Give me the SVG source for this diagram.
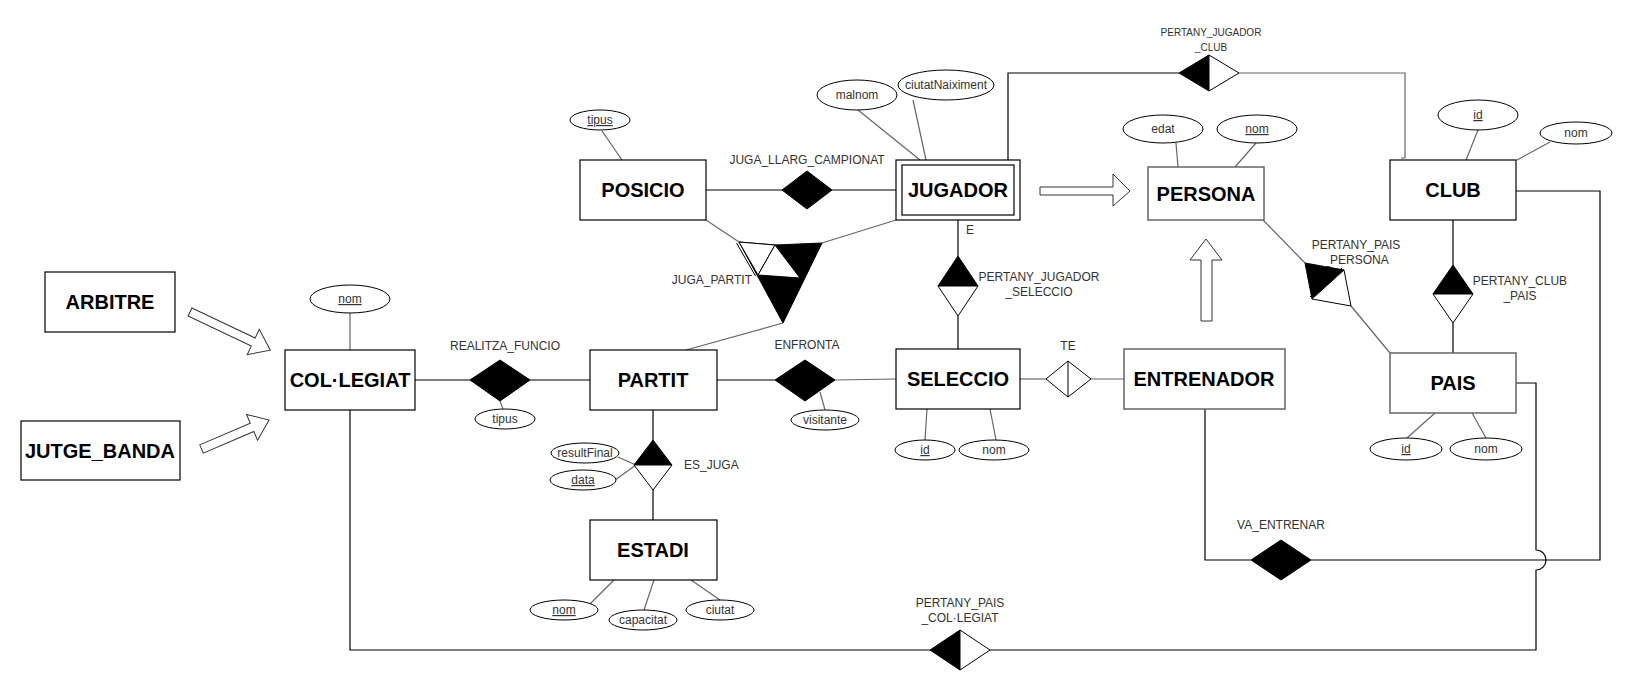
<svg xmlns="http://www.w3.org/2000/svg" width="1633" height="691" viewBox="0 0 1633 691">
<style>
text{font-family:"Liberation Sans",Arial,sans-serif;}
.ent{fill:#fff;stroke:#000;stroke-width:1.2;}
.entg{fill:#fff;stroke:#666;stroke-width:1.5;}
.en{font-size:20px;font-weight:bold;fill:#000;text-anchor:middle;}
.att{fill:#fff;stroke:#000;stroke-width:1;}
.at{font-size:12px;fill:#333;text-anchor:middle;}
.u{text-decoration:underline;}
.rl{font-size:12px;fill:#333;text-anchor:middle;}
.ln{fill:none;stroke:#000;stroke-width:1.2;}
.lg{fill:none;stroke:#666;stroke-width:1.2;}
.blk{fill:#000;stroke:#000;stroke-width:1;}
.wht{fill:#fff;stroke:#000;stroke-width:1;}
.barrow{fill:#fff;stroke:#333;stroke-width:1;}
</style>
<rect width="1633" height="691" fill="#fff"/>

<g id="connectors">
  <!-- attribute lines -->
  <line class="lg" x1="350" y1="313" x2="350" y2="350"/>
  <line class="lg" x1="602" y1="131" x2="622" y2="160"/>
  <line class="lg" x1="858" y1="110" x2="920" y2="160"/>
  <line class="lg" x1="913" y1="100" x2="926" y2="160"/>
  <line class="lg" x1="500" y1="401" x2="503" y2="409"/>
  <line class="lg" x1="820" y1="392" x2="825" y2="410"/>
  <line class="lg" x1="927" y1="409" x2="925" y2="440"/>
  <line class="lg" x1="990" y1="409" x2="996" y2="440"/>
  <line class="lg" x1="618" y1="457" x2="636" y2="465"/>
  <line class="lg" x1="615" y1="480" x2="636" y2="465"/>
  <line class="lg" x1="590" y1="604" x2="614" y2="580"/>
  <line class="lg" x1="644" y1="610" x2="654" y2="580"/>
  <line class="lg" x1="720" y1="600" x2="691" y2="580"/>
  <line class="lg" x1="1176" y1="143" x2="1178" y2="167"/>
  <line class="lg" x1="1256" y1="143" x2="1235" y2="167"/>
  <line class="lg" x1="1478" y1="130" x2="1466" y2="160"/>
  <line class="lg" x1="1550" y1="142" x2="1517" y2="160"/>
  <line class="lg" x1="1407" y1="438" x2="1435" y2="413"/>
  <line class="lg" x1="1486" y1="438" x2="1472" y2="413"/>

  <!-- relationship lines -->
  <line class="ln" x1="706" y1="190" x2="782" y2="190"/>
  <line class="ln" x1="832" y1="190" x2="896" y2="190"/>
  <line class="lg" x1="706" y1="220" x2="739" y2="242"/>
  <line class="lg" x1="896" y1="220" x2="822" y2="243"/>
  <line class="lg" x1="783" y1="323" x2="686" y2="350"/>
  <line class="ln" x1="415" y1="380" x2="470" y2="380"/>
  <line class="ln" x1="530" y1="380" x2="590" y2="380"/>
  <line class="ln" x1="717" y1="380" x2="775" y2="380"/>
  <line class="lg" x1="835" y1="380" x2="896" y2="379"/>
  <line class="ln" x1="653" y1="410" x2="653" y2="440"/>
  <line class="ln" x1="653" y1="490" x2="653" y2="520"/>
  <line class="ln" x1="958" y1="220" x2="958" y2="256"/>
  <line class="ln" x1="958" y1="316" x2="958" y2="349"/>
  <line class="lg" x1="1020" y1="379" x2="1046" y2="379"/>
  <line class="lg" x1="1091" y1="379" x2="1124" y2="379"/>
  <polyline class="ln" points="1008,160 1008,73 1179,73"/>
  <polyline class="lg" points="1239,73 1405,73 1405,158 1401,158"/>
  <line class="lg" x1="1263" y1="220" x2="1305" y2="263"/>
  <line class="lg" x1="1351" y1="306" x2="1390" y2="353"/>
  <line class="ln" x1="1453" y1="220" x2="1453" y2="265"/>
  <line class="ln" x1="1453" y1="323" x2="1453" y2="353"/>
  <polyline class="ln" points="1205,409 1205,560 1251,560"/>
  <polyline class="ln" points="1311,560 1600,560 1600,191 1516,191"/>
  <path class="ln" d="M350,410 V650 H930"/>
  <path class="ln" d="M990,650 H1536 V570 A10,10 0 0 0 1536,550 V383 H1516" stroke="#000"/>

  <!-- ISA block arrows -->
  <polygon class="barrow" transform="translate(190,312) rotate(25.4)" points="0,-4.5 70,-4.5 70,-14 89,0 70,14 70,4.5 0,4.5"/>
  <polygon class="barrow" transform="translate(201.5,449) rotate(-23.2)" points="0,-4.5 55,-4.5 55,-14 73.5,0 55,14 55,4.5 0,4.5"/>
  <polygon class="barrow" points="1040,187 1113,187 1113,174 1130,191 1113,206 1113,195 1040,195"/>
  <polygon class="barrow" points="1201,321 1201,260 1190,260 1206,239 1222,260 1212,260 1212,321"/>
</g>

<!-- relationships -->
<g id="rel-juga-llarg">
  <polygon class="blk" points="782,190 807,171 832,190 807,209"/>
  <text class="rl" x="807" y="164">JUGA_LLARG_CAMPIONAT</text>
</g>
<g id="rel-juga-partit">
  <polygon class="blk" points="739,242 775,245 822,243 783,323"/>
  <polygon class="wht" points="739,242 775,245 758,275"/>
  <polygon class="wht" points="775,245 800,278 758,275"/>
  <line x1="736.5" y1="243" x2="755.5" y2="276" stroke="#000" stroke-width="1"/>
  <text class="rl" x="752" y="284" text-anchor="end" style="text-anchor:end">JUGA_PARTIT</text>
</g>
<g id="rel-realitza">
  <polygon class="blk" points="470,380 500,360 530,380 500,401"/>
  <text class="rl" x="505" y="350">REALITZA_FUNCIO</text>
</g>
<g id="rel-enfronta">
  <polygon class="blk" points="775,380 805,360 835,380 805,401"/>
  <text class="rl" x="807" y="349">ENFRONTA</text>
</g>
<g id="rel-es-juga">
  <polygon class="blk" points="634,465 653,440 672,465"/>
  <polygon class="wht" points="634,465 672,465 653,490"/>
  <text class="rl" x="684" y="469" style="text-anchor:start">ES_JUGA</text>
</g>
<g id="rel-pertany-jug-sel">
  <polygon class="blk" points="938,286 958,256 978,286"/>
  <polygon class="wht" points="938,286 978,286 958,316"/>
  <text class="rl" x="970" y="234">E</text>
  <text class="rl" x="1039" y="281">PERTANY_JUGADOR</text>
  <text class="rl" x="1039" y="296">_SELECCIO</text>
</g>
<g id="rel-te">
  <polygon class="wht" points="1046,379 1068,361 1091,379 1068,397"/>
  <line x1="1068" y1="361" x2="1068" y2="397" stroke="#000" stroke-width="1"/>
  <text class="rl" x="1068" y="350">TE</text>
</g>
<g id="rel-pertany-jug-club">
  <polygon class="blk" points="1179,73 1209,55 1209,91"/>
  <polygon class="wht" points="1209,55 1239,73 1209,91"/>
  <text class="rl" x="1211" y="36" style="font-size:10px">PERTANY_JUGADOR</text>
  <text class="rl" x="1211" y="51" style="font-size:10px">_CLUB</text>
</g>
<g id="rel-pertany-pais-persona">
  <polygon class="blk" points="1305,263 1344,270 1312,299"/>
  <polygon class="wht" points="1344,270 1351,306 1312,299"/>
  <line x1="1342" y1="268" x2="1310" y2="297" stroke="#000" stroke-width="1"/>
  <text class="rl" x="1356" y="249">PERTANY_PAIS</text>
  <text class="rl" x="1356" y="264">_PERSONA</text>
</g>
<g id="rel-pertany-club-pais">
  <polygon class="blk" points="1433,294 1453,265 1473,294"/>
  <polygon class="wht" points="1433,294 1473,294 1453,323"/>
  <text class="rl" x="1520" y="285">PERTANY_CLUB</text>
  <text class="rl" x="1520" y="300">_PAIS</text>
</g>
<g id="rel-va-entrenar">
  <polygon class="blk" points="1251,560 1281,540 1311,560 1281,580"/>
  <text class="rl" x="1281" y="529">VA_ENTRENAR</text>
</g>
<g id="rel-pertany-pais-col">
  <polygon class="blk" points="930,650 960,630 960,670"/>
  <polygon class="wht" points="960,630 990,650 960,670"/>
  <text class="rl" x="960" y="607">PERTANY_PAIS</text>
  <text class="rl" x="960" y="622">_COL·LEGIAT</text>
</g>

<!-- entities -->
<g id="arbitre">
  <rect class="ent" x="45" y="272" width="130" height="60"/>
  <text class="en" x="110" y="309">ARBITRE</text>
</g>
<g id="jutge-banda">
  <rect class="ent" x="21" y="421" width="159" height="59"/>
  <text class="en" x="100" y="458">JUTGE_BANDA</text>
</g>
<g id="collegiat">
  <rect class="ent" x="285" y="350" width="130" height="60"/>
  <text class="en" x="350" y="387">COL·LEGIAT</text>
  <ellipse class="att" cx="350" cy="299" rx="40" ry="14"/>
  <text class="at u" x="350" y="303">nom</text>
</g>
<g id="posicio">
  <rect class="ent" x="580" y="160" width="126" height="60"/>
  <text class="en" x="643" y="197">POSICIO</text>
  <ellipse class="att" cx="600" cy="120" rx="30" ry="10"/>
  <text class="at u" x="600" y="124">tipus</text>
</g>
<g id="jugador">
  <rect class="ent" x="896" y="160" width="124" height="60"/>
  <rect class="ent" x="902" y="165" width="112" height="50"/>
  <text class="en" x="958" y="197">JUGADOR</text>
  <ellipse class="att" cx="857" cy="95" rx="40" ry="15"/>
  <text class="at" x="857" y="99">malnom</text>
  <ellipse class="att" cx="946" cy="85" rx="48" ry="15"/>
  <text class="at" x="946" y="89">ciutatNaiximent</text>
</g>
<g id="partit">
  <rect class="ent" x="590" y="350" width="127" height="60"/>
  <text class="en" x="653" y="387">PARTIT</text>
  <ellipse class="att" cx="505" cy="419" rx="30" ry="10"/>
  <text class="at" x="505" y="423">tipus</text>
  <ellipse class="att" cx="825" cy="420" rx="34" ry="10"/>
  <text class="at" x="825" y="424">visitante</text>
  <ellipse class="att" cx="585" cy="453" rx="34" ry="10"/>
  <text class="at" x="585" y="457">resultFinal</text>
  <ellipse class="att" cx="583" cy="480" rx="33" ry="10"/>
  <text class="at u" x="583" y="484">data</text>
</g>
<g id="seleccio">
  <rect class="ent" x="896" y="349" width="124" height="60"/>
  <text class="en" x="958" y="386">SELECCIO</text>
  <ellipse class="att" cx="925" cy="450" rx="30" ry="10"/>
  <text class="at u" x="925" y="454">id</text>
  <ellipse class="att" cx="994" cy="450" rx="35" ry="10"/>
  <text class="at" x="994" y="454">nom</text>
</g>
<g id="estadi">
  <rect class="ent" x="590" y="520" width="127" height="60"/>
  <text class="en" x="653" y="557">ESTADI</text>
  <ellipse class="att" cx="564" cy="610" rx="34" ry="10"/>
  <text class="at u" x="564" y="614">nom</text>
  <ellipse class="att" cx="643" cy="620" rx="34" ry="10"/>
  <text class="at" x="643" y="624">capacitat</text>
  <ellipse class="att" cx="720" cy="610" rx="34" ry="10"/>
  <text class="at" x="720" y="614">ciutat</text>
</g>
<g id="persona">
  <rect class="entg" x="1148" y="167" width="116" height="53"/>
  <text class="en" x="1206" y="201">PERSONA</text>
  <ellipse class="att" cx="1163" cy="129" rx="40" ry="14"/>
  <text class="at" x="1163" y="133">edat</text>
  <ellipse class="att" cx="1257" cy="129" rx="40" ry="14"/>
  <text class="at u" x="1257" y="133">nom</text>
</g>
<g id="club">
  <rect class="ent" x="1390" y="160" width="126" height="60"/>
  <text class="en" x="1453" y="197">CLUB</text>
  <ellipse class="att" cx="1478" cy="115" rx="40" ry="15"/>
  <text class="at u" x="1478" y="119">id</text>
  <ellipse class="att" cx="1576" cy="133" rx="36" ry="11"/>
  <text class="at" x="1576" y="137">nom</text>
</g>
<g id="entrenador">
  <rect class="entg" x="1124" y="349" width="161" height="60"/>
  <text class="en" x="1204" y="386">ENTRENADOR</text>
</g>
<g id="pais">
  <rect class="entg" x="1390" y="353" width="126" height="60"/>
  <text class="en" x="1453" y="390">PAIS</text>
  <ellipse class="att" cx="1406" cy="449" rx="36" ry="11"/>
  <text class="at u" x="1406" y="453">id</text>
  <ellipse class="att" cx="1486" cy="449" rx="36" ry="11"/>
  <text class="at" x="1486" y="453">nom</text>
</g>
</svg>
